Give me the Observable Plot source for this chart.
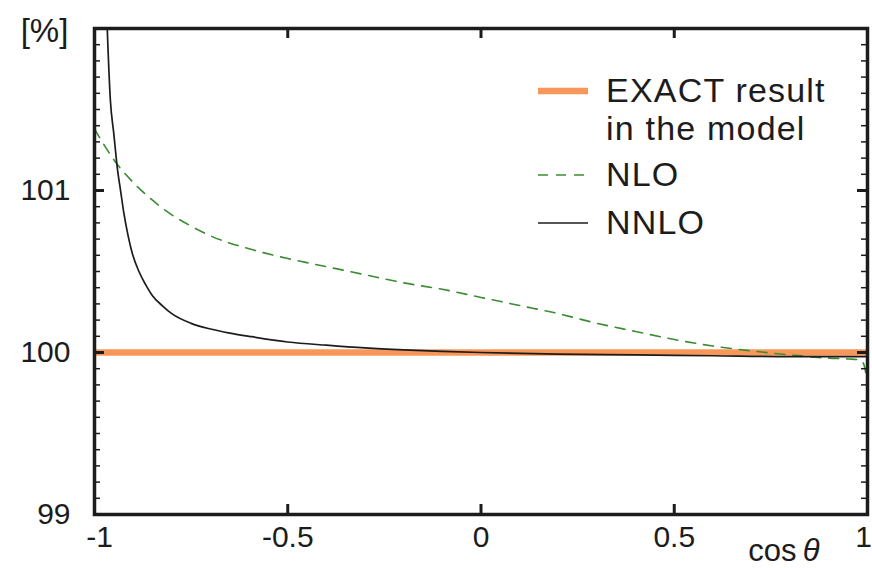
<!DOCTYPE html>
<html>
<head>
<meta charset="utf-8">
<script src="https://cdn.jsdelivr.net/npm/d3@7"></script>
<script src="https://cdn.jsdelivr.net/npm/@observablehq/plot@0.6"></script>
<style>
  body { margin: 0; background: #fff; }
  #chart svg { display: block; }
</style>
</head>
<body>
<div id="chart"></div>
<script>
// Ratio to the exact result, in percent, as a function of cos(theta)
const exactValue = 100;

const nloCos = [-1, -0.98, -0.95, -0.9, -0.85, -0.8, -0.75, -0.7, -0.6, -0.5, -0.4, -0.3, -0.2, -0.1,
                0, 0.1, 0.2, 0.3, 0.4, 0.5, 0.6, 0.7, 0.8, 0.9, 0.95, 0.98, 0.99, 0.995, 1];
const nloPct = [101.38, 101.30, 101.19, 101.05, 100.94, 100.85, 100.78, 100.72, 100.64, 100.58, 100.53, 100.48, 100.43, 100.39,
                100.34, 100.29, 100.24, 100.18, 100.13, 100.08, 100.04, 100.01, 99.985, 99.965, 99.96, 99.955, 99.93, 99.88, 99.78];

const nnloCos = [-0.985, -0.975, -0.967, -0.959, -0.95, -0.941, -0.932, -0.924, -0.913, -0.902, -0.885, -0.868, -0.85, -0.825,
                 -0.8, -0.75, -0.7, -0.65, -0.6, -0.5, -0.4, -0.3, -0.2, -0.1, 0, 0.2, 0.4, 0.6, 0.8, 0.9, 1];
const nnloPct = [103.6, 102.6, 102.0, 101.56, 101.35, 101.14, 100.99, 100.86, 100.72, 100.61, 100.50, 100.42, 100.35, 100.29,
                 100.24, 100.18, 100.145, 100.12, 100.10, 100.065, 100.045, 100.028, 100.016, 100.007, 100.0,
                 99.99, 99.985, 99.98, 99.975, 99.975, 99.975];

const xTickValues = [-1, -0.5, 0, 0.5, 1];
const xInnerTicks = [-0.5, 0, 0.5];
const yTickValues = [99, 100, 101];
const yMajorTicks = [99, 100, 101, 102];
const yMinorTicks = d3.range(0, 31).map(i => 99 + i / 10);

const legendItems = [
  {lines: ["EXACT result", "in the model"], kind: "exact"},
  {lines: ["NLO"], kind: "nlo"},
  {lines: ["NNLO"], kind: "nnlo"}
];

const orange = "#f8975a";
const green = "#3b8c32";
const ink = "#1c1c1c";
const font = "Liberation Sans";

const nlo = nloCos.map((c, i) => ({c, v: nloPct[i]}));
const nnlo = nnloCos.map((c, i) => ({c, v: nnloPct[i]}));

const W = 872, H = 568;
const mL = 94, mR = 5, mT = 28, mB = 54;
const pw = W - mL - mR, ph = H - mT - mB;

// the end labels sit slightly inside the frame corners
const labelShift = d => (d === -1 ? 5 : d === 1 ? -4 : 0);

const chart = Plot.plot({
  width: W, height: H,
  marginLeft: mL, marginRight: mR, marginTop: mT, marginBottom: mB,
  x: {domain: [-1, 1], label: null},
  y: {domain: [99, 102], label: null},
  style: {fontFamily: font, fontSize: "30px", color: ink, background: "#fff", overflow: "visible"},
  marks: [
    Plot.ruleY([exactValue], {stroke: orange, strokeWidth: 6.5}),
    Plot.line(nlo, {x: "c", y: "v", stroke: green, strokeWidth: 1.6, strokeDasharray: "10,8", curve: "monotone-x", clip: true}),
    Plot.line(nnlo, {x: "c", y: "v", stroke: ink, strokeWidth: 1.7, curve: "monotone-x", clip: true}),
    // inward ticks on all four sides
    Plot.ruleY(yMinorTicks, {stroke: ink, strokeWidth: 1.5, insetRight: pw - 6}),
    Plot.ruleY(yMinorTicks, {stroke: ink, strokeWidth: 1.5, insetLeft: pw - 6}),
    Plot.ruleY(yMajorTicks, {stroke: ink, strokeWidth: 3, insetRight: pw - 10}),
    Plot.ruleY(yMajorTicks, {stroke: ink, strokeWidth: 3, insetLeft: pw - 10}),
    Plot.ruleX(xInnerTicks, {stroke: ink, strokeWidth: 3, insetTop: ph - 10}),
    Plot.ruleX(xInnerTicks, {stroke: ink, strokeWidth: 3, insetBottom: ph - 10}),
    Plot.frame({stroke: ink, strokeWidth: 3.5}),
    ...xTickValues.map(v => Plot.axisX([v], {tickSize: 0, tickPadding: 11, tickFormat: d => String(d),
                                               label: null, dx: labelShift(v)})),
    Plot.axisY(yTickValues, {tickSize: 0, tickPadding: 24, tickFormat: d => String(d), label: null}),
    Plot.text(["[%]"], {frameAnchor: "top-left", dx: -50, dy: 3, text: d => d, fontSize: 33,
                        lineAnchor: "middle", textAnchor: "middle"})
  ]
});

document.getElementById("chart").appendChild(chart);

// axis title with italic theta
const svg = d3.select(chart);
const xTitle = svg.append("text")
  .attr("x", 784).attr("y", 561)
  .attr("text-anchor", "middle")
  .attr("font-family", font).attr("font-size", 31).attr("fill", ink);
xTitle.append("tspan").text("cos\u2009");
xTitle.append("tspan").attr("font-style", "italic").text("\u03b8");

// legend inside the frame, upper right
const legend = svg.append("g")
  .attr("font-family", font).attr("font-size", 34).attr("fill", ink)
  .attr("text-anchor", "start").attr("letter-spacing", 1.2);
const rowY = {exact: 91, nlo: 175, nnlo: 223};
legendItems.forEach(item => {
  const y = rowY[item.kind];
  const line = legend.append("line")
    .attr("x1", 538).attr("x2", 588).attr("y1", y).attr("y2", y);
  if (item.kind === "exact") line.attr("stroke", orange).attr("stroke-width", 6.5);
  if (item.kind === "nlo") line.attr("stroke", green).attr("stroke-width", 1.6).attr("stroke-dasharray", "10,8");
  if (item.kind === "nnlo") line.attr("stroke", ink).attr("stroke-width", 1.6);
  item.lines.forEach((t, i) => {
    legend.append("text")
      .attr("x", 606).attr("y", y + 11 + i * 38)
      .text(t);
  });
});
</script>
</body>
</html>
